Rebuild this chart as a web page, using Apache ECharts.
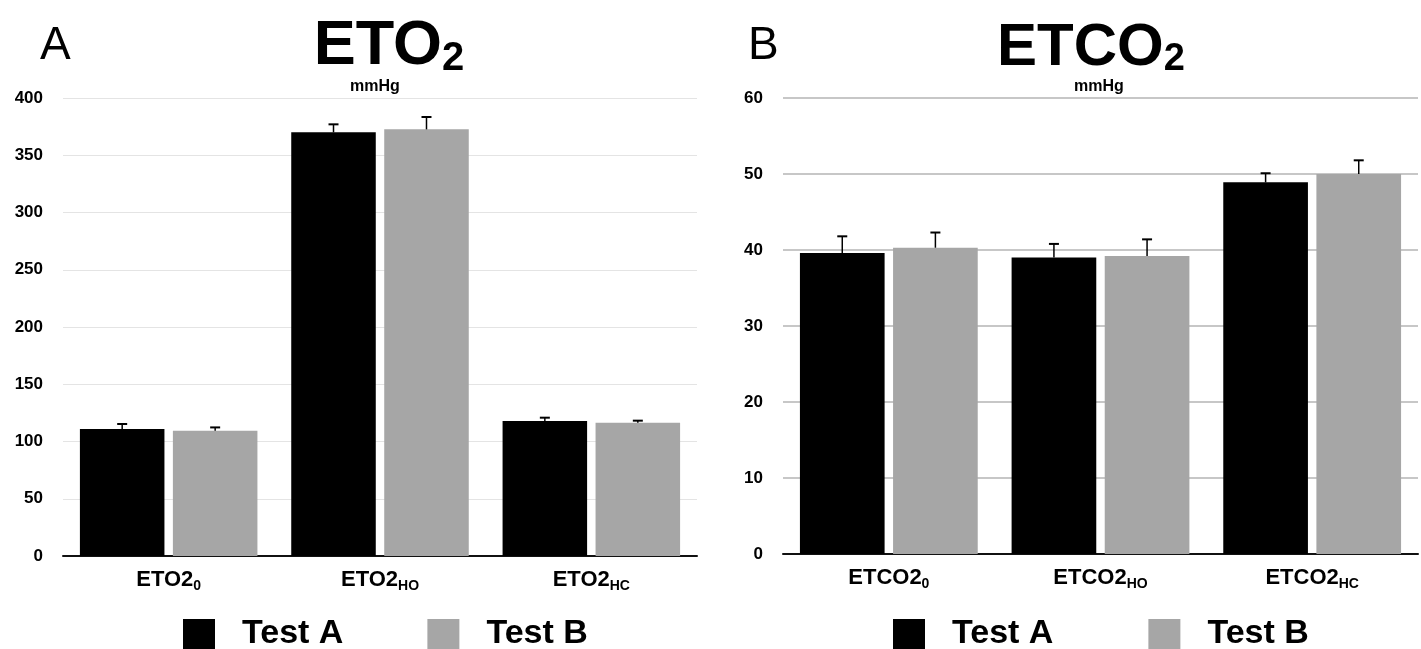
<!DOCTYPE html>
<html>
<head>
<meta charset="utf-8">
<script src="https://cdn.jsdelivr.net/npm/echarts@6/dist/echarts.min.js"></script>
<style>html,body{margin:0;padding:0;background:#fff;}#c{width:1421px;height:649px;}</style>
</head>
<body>
<div id="c"></div>
<script>
// ---- data ----
var leftCategories = ['ETO2_0', 'ETO2_HO', 'ETO2_HC'];
var leftTestA = [111, 370, 118];
var leftTestAErr = [4.3, 7, 2.8];
var leftTestB = [109.4, 372.6, 116.4];
var leftTestBErr = [2.9, 10.8, 1.8];
var leftTicks = [0, 50, 100, 150, 200, 250, 300, 350, 400];

var rightCategories = ['ETCO2_0', 'ETCO2_HO', 'ETCO2_HC'];
var rightTestA = [39.6, 39.0, 48.9];
var rightTestAErr = [2.2, 1.8, 1.2];
var rightTestB = [40.3, 39.2, 50.0];
var rightTestBErr = [2.0, 2.2, 1.8];
var rightTicks = [0, 10, 20, 30, 40, 50, 60];

var seriesNames = ['Test A', 'Test B'];

// ---- helpers ----
var FONT = '"Liberation Sans", Arial, Helvetica, sans-serif';
var CAT_GAP = 0.16, BAR_GAP = 0.10;

function errData(vals, errs) {
  return vals.map(function (v, i) { return [i, v, errs[i]]; });
}
function makeErr(sign) {
  return function (params, api) {
    var x = api.value(0), v = api.value(1), e = api.value(2);
    var band = api.size([1, 0])[0];
    var bw = band * (1 - CAT_GAP) / (2 + BAR_GAP);
    var off = sign * bw * (1 + BAR_GAP) / 2;
    var p0 = api.coord([x, v]);
    var p1 = api.coord([x, v + e]);
    var cx = p0[0] + off;
    return {
      type: 'group',
      children: [
        { type: 'line', shape: { x1: cx, y1: p0[1], x2: cx, y2: p1[1] }, style: { stroke: '#000', lineWidth: 1.5 } },
        { type: 'line', shape: { x1: cx - 5, y1: p1[1], x2: cx + 5, y2: p1[1] }, style: { stroke: '#000', lineWidth: 2 } }
      ]
    };
  };
}
function catFormatter(v) {
  var parts = v.split('_');
  return '{m|' + parts[0] + '}{s|' + parts[1] + '}';
}
var catRich = {
  m: { fontFamily: FONT, fontSize: 22, fontWeight: 'bold', color: '#000', verticalAlign: 'bottom', lineHeight: 26 },
  s: { fontFamily: FONT, fontSize: 14, fontWeight: 'bold', color: '#000', verticalAlign: 'bottom', lineHeight: 26, padding: [0, 0, -2, 0] }
};
function xAxisCfg(gi, cats) {
  return {
    type: 'category', gridIndex: gi, data: cats,
    axisLine: { show: true, lineStyle: { color: '#111', width: 2 } },
    axisTick: { show: false },
    axisLabel: { formatter: catFormatter, rich: catRich, margin: 9, interval: 0 }
  };
}
function yAxisCfg(gi, ticks, gridColor, gridWidth) {
  return {
    type: 'value', gridIndex: gi,
    min: ticks[0], max: ticks[ticks.length - 1], interval: ticks[1] - ticks[0],
    axisLine: { show: false }, axisTick: { show: false },
    axisLabel: { fontFamily: FONT, fontSize: 17, fontWeight: 'bold', color: '#000', margin: 20 },
    splitLine: { show: true, lineStyle: { color: gridColor, width: gridWidth } }
  };
}
function barSeries(name, gi, data, color) {
  return {
    name: name, type: 'bar', xAxisIndex: gi, yAxisIndex: gi, data: data,
    itemStyle: { color: color },
    barCategoryGap: (CAT_GAP * 100) + '%', barGap: (BAR_GAP * 100) + '%',
    silent: true
  };
}
function errSeries(name, gi, vals, errs, sign) {
  return {
    name: name, type: 'custom', xAxisIndex: gi, yAxisIndex: gi,
    data: errData(vals, errs), encode: { x: 0, y: 1 },
    renderItem: makeErr(sign), z: 5, silent: true
  };
}
function titleRich(main, sub, cx, size) {
  return {
    text: '{a|' + main + '}{b|' + sub + '}',
    left: cx, top: 11, textAlign: 'center',
    textStyle: {
      rich: {
        a: { fontFamily: FONT, fontSize: size, fontWeight: 'bold', color: '#000', verticalAlign: 'bottom', lineHeight: 62 },
        b: { fontFamily: FONT, fontSize: Math.round(size * 0.64), fontWeight: 'bold', color: '#000', verticalAlign: 'bottom', lineHeight: 62, padding: [0, 0, -1, 0] }
      }
    }
  };
}
function legendCfg(left, gap) {
  return {
    data: seriesNames, left: left, top: 617, orient: 'horizontal', padding: 0,
    itemWidth: 32, itemHeight: 30, itemGap: gap, icon: 'rect',
    selectedMode: false,
    textStyle: { fontFamily: FONT, fontSize: 34, fontWeight: 'bold', color: '#000', padding: [0, 0, 0, 22] }
  };
}

var chart = echarts.init(document.getElementById('c'), null, { renderer: 'canvas' });
chart.setOption({
  animation: false,
  backgroundColor: '#fff',
  title: [
    { text: 'A', left: 35, top: 18, textStyle: { fontFamily: FONT, fontSize: 46, fontWeight: 'normal', color: '#000' } },
    titleRich('ETO', '2', 384, 63),
    { text: 'mmHg', left: 370, top: 74, textAlign: 'center', textStyle: { fontFamily: FONT, fontSize: 16, fontWeight: 'bold', color: '#000' } },
    { text: 'B', left: 743, top: 18, textStyle: { fontFamily: FONT, fontSize: 46, fontWeight: 'normal', color: '#000' } },
    titleRich('ETCO', '2', 1086, 60),
    { text: 'mmHg', left: 1094, top: 74, textAlign: 'center', textStyle: { fontFamily: FONT, fontSize: 16, fontWeight: 'bold', color: '#000' } }
  ],
  legend: [legendCfg(183, 84), legendCfg(893, 95)],
  grid: [
    { left: 63, top: 98, width: 634, height: 458 },
    { left: 783, top: 98, width: 635, height: 456 }
  ],
  xAxis: [xAxisCfg(0, leftCategories), xAxisCfg(1, rightCategories)],
  yAxis: [yAxisCfg(0, leftTicks, '#e4e4e4', 1), yAxisCfg(1, rightTicks, '#b4b4b4', 1.5)],
  series: [
    barSeries(seriesNames[0], 0, leftTestA, '#000000'),
    barSeries(seriesNames[1], 0, leftTestB, '#a6a6a6'),
    errSeries('errLA', 0, leftTestA, leftTestAErr, -1),
    errSeries('errLB', 0, leftTestB, leftTestBErr, 1),
    barSeries(seriesNames[0], 1, rightTestA, '#000000'),
    barSeries(seriesNames[1], 1, rightTestB, '#a6a6a6'),
    errSeries('errRA', 1, rightTestA, rightTestAErr, -1),
    errSeries('errRB', 1, rightTestB, rightTestBErr, 1)
  ]
});
</script>
</body>
</html>
